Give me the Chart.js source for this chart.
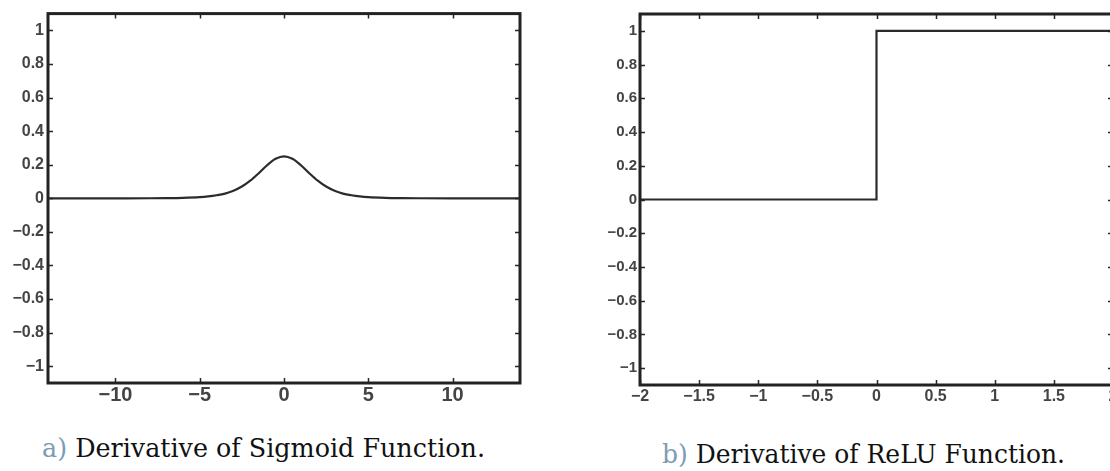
<!DOCTYPE html>
<html>
<head>
<meta charset="utf-8">
<script src="https://cdn.jsdelivr.net/npm/chart.js@4.4.1/dist/chart.umd.min.js"></script>
<style>
  html, body { margin: 0; padding: 0; background: #fff; width: 1110px; height: 471px; overflow: hidden; position: relative; }
  canvas { position: absolute; }
  #c1 { left: 0; top: 0; }
  #c2 { left: 560px; top: 0; }
  .cap { position: absolute; font-family: "DejaVu Serif", serif; font-size: 26px; line-height: 26px; white-space: nowrap; color: #111; transform-origin: 0 0; }
  .cap .lbl { color: #7c9cb4; }
</style>
</head>
<body>
<canvas id="c1" width="540" height="420"></canvas>
<canvas id="c2" width="600" height="420"></canvas>
<div class="cap" id="capA" style="left:42px; top:435px;"><span class="lbl">a)</span> Derivative of Sigmoid Function.</div>
<div class="cap" id="capB" style="left:662px; top:441px;"><span class="lbl">b)</span> Derivative of ReLU Function.</div>
<script>
// ---- data ----
const sigX = [-14, -12, -10, -8, -7, -6, -5, -4.5, -4, -3.5, -3, -2.5, -2, -1.5, -1, -0.5, 0, 0.5, 1, 1.5, 2, 2.5, 3, 3.5, 4, 4.5, 5, 6, 7, 8, 10, 12, 14];
const sigY = [0, 0, 0, 0.0003, 0.0009, 0.0025, 0.0066, 0.011, 0.018, 0.028, 0.045, 0.070, 0.105, 0.149, 0.197, 0.235, 0.25, 0.235, 0.197, 0.149, 0.105, 0.070, 0.045, 0.028, 0.018, 0.011, 0.0066, 0.0025, 0.0009, 0.0003, 0, 0, 0];
const reluX = [-2, 0, 2];
const reluY = [0, 1, 1];
const sigXTicks = [-10, -5, 0, 5, 10];
const reluXTicks = [-2, -1.5, -1, -0.5, 0, 0.5, 1, 1.5, 2];
const yTicks = [-1, -0.8, -0.6, -0.4, -0.2, 0, 0.2, 0.4, 0.6, 0.8, 1];
const captions = ["a) Derivative of Sigmoid Function.", "b) Derivative of ReLU Function."];

function fmt(v) {
  const s = String(Math.round(v * 100) / 100);
  return s.replace('-', '\u2212');
}

const boxPlugin = {
  id: 'boxPlugin',
  afterDraw(chart) {
    const ctx = chart.ctx;
    const a = chart.chartArea;
    const xs = chart.scales.x, ys = chart.scales.y;
    const tl = 5;
    ctx.save();
    ctx.strokeStyle = '#262626';
    ctx.lineWidth = 1.5;
    ctx.beginPath();
    xs.ticks.forEach(t => {
      const px = Math.round(xs.getPixelForValue(t.value)) + 0.5;
      ctx.moveTo(px, a.bottom); ctx.lineTo(px, a.bottom - tl);
      ctx.moveTo(px, a.top); ctx.lineTo(px, a.top + tl);
    });
    ys.ticks.forEach(t => {
      const py = Math.round(ys.getPixelForValue(t.value)) + 0.5;
      ctx.moveTo(a.left, py); ctx.lineTo(a.left + tl, py);
      ctx.moveTo(a.right, py); ctx.lineTo(a.right - tl, py);
    });
    ctx.stroke();
    ctx.lineWidth = 3;
    ctx.strokeStyle = '#222';
    ctx.strokeRect(a.left, a.top, a.right - a.left, a.bottom - a.top);
    ctx.restore();
  }
};

function makeChart(id, xs, ysd, xTicks, xRange, opts) {
  const data = xs.map((x, i) => ({ x: x, y: ysd[i] }));
  return new Chart(document.getElementById(id), {
    type: 'line',
    data: { datasets: [{
      data: data,
      borderColor: '#2b2b2b',
      borderWidth: 2.2,
      pointRadius: 0,
      fill: false,
      stepped: opts.stepped || false,
      cubicInterpolationMode: opts.stepped ? 'default' : 'monotone',
      tension: 0
    }]},
    options: {
      responsive: false,
      animation: false,
      devicePixelRatio: 1,
      layout: { padding: { left: 0, top: opts.top, right: opts.right, bottom: 0 } },
      plugins: { legend: { display: false }, tooltip: { enabled: false } },
      scales: {
        x: {
          type: 'linear', min: xRange[0], max: xRange[1],
          grid: { display: false, drawTicks: false },
          border: { display: false },
          afterBuildTicks: s => { s.ticks = xTicks.map(v => ({ value: v })); },
          afterFit: s => { s.height = opts.xh; },
          ticks: { callback: v => fmt(v), color: '#444', padding: opts.xpad, maxRotation: 0, autoSkip: false,
                   font: { family: 'Liberation Sans, Arial, sans-serif', size: opts.xfs, weight: 'bold' } }
        },
        y: {
          type: 'linear', min: -1.1, max: 1.1,
          grid: { display: false, drawTicks: false },
          border: { display: false },
          afterBuildTicks: s => { s.ticks = yTicks.map(v => ({ value: v })); },
          afterFit: s => { s.width = opts.yw; },
          ticks: { callback: v => fmt(v), color: '#444', padding: opts.ypad, autoSkip: false,
                   font: { family: 'Liberation Sans, Arial, sans-serif', size: opts.yfs, weight: 'bold' } }
        }
      }
    },
    plugins: [boxPlugin]
  });
}

makeChart('c1', sigX, sigY, sigXTicks, [-14, 14], { top: 10, right: 20, xh: 37, yw: 48, xpad: 0, ypad: 4, xfs: 20, yfs: 16 });
makeChart('c2', reluX, reluY, reluXTicks, [-2, 2], { top: 14, right: 47, xh: 35, yw: 80, xpad: 2, ypad: 3, xfs: 16, yfs: 15, stepped: true });

// fit captions to their measured widths in the reference
function fitCap(id, w) {
  const el = document.getElementById(id);
  const cw = el.getBoundingClientRect().width;
  el.style.transform = 'scaleX(' + (w / cw) + ')';
}
fitCap('capA', 443);
fitCap('capB', 403);
</script>
</body>
</html>
